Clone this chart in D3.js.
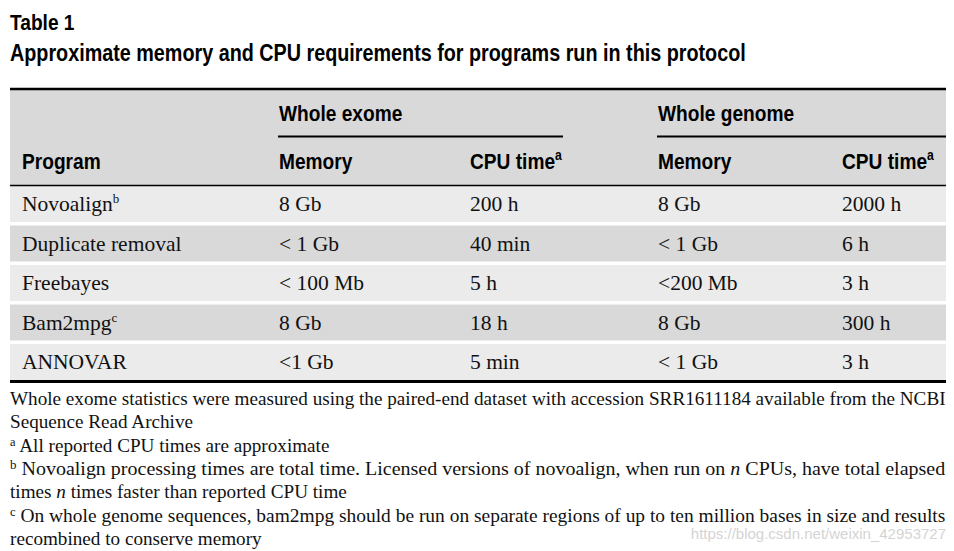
<!DOCTYPE html>
<html>
<head>
<meta charset="utf-8">
<script src="https://cdn.jsdelivr.net/npm/d3@7"></script>
<style>
  body { margin: 0; background: #fff; }
  svg { display: block; }
  .hd { font-family: "Liberation Sans Narrow", "Arial Narrow", "Liberation Sans", Arial, sans-serif; font-weight: bold; fill: #000; }
  .bd { font-family: "Liberation Serif", "Times New Roman", serif; fill: #111; }
</style>
</head>
<body>
<svg id="chart"></svg>
<script>
// table content
var programs = ["Novoalign", "Duplicate removal", "Freebayes", "Bam2mpg", "ANNOVAR"];
var programNotes = ["b", "", "", "c", ""];
var exomeMemory = ["8 Gb", "< 1 Gb", "< 100 Mb", "8 Gb", "<1 Gb"];
var exomeCpu = ["200 h", "40 min", "5 h", "18 h", "5 min"];
var genomeMemory = ["8 Gb", "< 1 Gb", "<200 Mb", "8 Gb", "< 1 Gb"];
var genomeCpu = ["2000 h", "6 h", "3 h", "300 h", "3 h"];

var groupLabels = ["Whole exome", "Whole genome"];
var colLabels = ["Program", "Memory", "CPU time", "Memory", "CPU time"];
var colNotes = ["", "", "a", "", "a"];

var footLines = [
    [{t: "Whole exome statistics were measured using the paired-end dataset with accession SRR1611184 available from the NCBI"}],
    [{t: "Sequence Read Archive"}],
    [{t: "a", sup: true}, {t: " All reported CPU times are approximate"}],
    [{t: "b", sup: true}, {t: " Novoalign processing times are total time. Licensed versions of novoalign, when run on "}, {t: "n", it: true}, {t: " CPUs, have total elapsed"}],
    [{t: "times "}, {t: "n", it: true}, {t: " times faster than reported CPU time"}],
    [{t: "c", sup: true}, {t: " On whole genome sequences, bam2mpg should be run on separate regions of up to ten million bases in size and results"}],
    [{t: "recombined to conserve memory"}]
];
var footJustify = [true, false, false, true, false, true, false];

var width = 954, height = 551;
var left = 10, right = 946;
var squeeze = 0.87; // condensed look for the bold sans headings

var svg = d3.select("#chart")
    .attr("width", width)
    .attr("height", height);

function headText(sel, x, y, size, label, note) {
    var t = sel.append("text").attr("class", "hd")
        .attr("transform", "translate(" + x + "," + y + ") scale(" + squeeze + ",1)")
        .style("font-size", size + "px")
        .text(label);
    if (note) {
        t.append("tspan")
            .attr("dy", -9)
            .style("font-size", "14px")
            .text(note);
    }
    return t;
}

// title
headText(svg, left, 30, 22, "Table 1");

var title = svg.append("text").attr("class", "hd")
    .style("font-size", "23px")
    .text("Approximate memory and CPU requirements for programs run in this protocol");
var tw = title.node().getComputedTextLength();
title.attr("transform", "translate(" + left + ",61) scale(" + (736 / tw) + ",1)");

// columns
var colX = d3.scaleOrdinal()
    .domain(d3.range(5))
    .range([22, 279, 470, 658, 842]);

// header block
svg.append("rect")
    .attr("x", left).attr("y", 89)
    .attr("width", right - left).attr("height", 97)
    .attr("fill", "#d9d9d9");

// rows
var y = d3.scaleBand()
    .domain(programs)
    .range([186, 380])
    .paddingInner(0.09)
    .paddingOuter(0);

var rows = programs.map(function(p, i) {
    return [p, exomeMemory[i], exomeCpu[i], genomeMemory[i], genomeCpu[i]];
});

var rowG = svg.selectAll(".row")
    .data(rows)
    .join("g")
    .attr("class", "row")
    .attr("transform", function(d) { return "translate(0," + y(d[0]) + ")"; });

rowG.append("rect")
    .attr("x", left)
    .attr("width", right - left)
    .attr("height", y.bandwidth())
    .attr("fill", function(d, i) { return i % 2 === 0 ? "#ebebeb" : "#d9d9d9"; });

rowG.each(function(d, i) {
    var g = d3.select(this);
    d.forEach(function(v, c) {
        var t = g.append("text").attr("class", "bd")
            .attr("x", colX(c))
            .attr("y", 25)
            .style("font-size", "21.5px")
            .text(v);
        if (c === 0 && programNotes[i]) {
            t.append("tspan")
                .attr("dy", -8)
                .style("font-size", "13px")
                .text(programNotes[i]);
        }
    });
});

// header text
var groupX = [[278, 563], [657, 946]];
groupLabels.forEach(function(g, i) {
    headText(svg, groupX[i][0] + 1, 121, 22, g);
    svg.append("line")
        .attr("x1", groupX[i][0]).attr("x2", groupX[i][1])
        .attr("y1", 136.5).attr("y2", 136.5)
        .attr("stroke", "#000").attr("stroke-width", 2);
});

colLabels.forEach(function(c, i) {
    headText(svg, colX(i), 169, 22, c, colNotes[i]);
});

// rules
svg.append("line")
    .attr("x1", left).attr("x2", right)
    .attr("y1", 89).attr("y2", 89)
    .attr("stroke", "#000").attr("stroke-width", 2.5);
svg.append("line")
    .attr("x1", left).attr("x2", right)
    .attr("y1", 185.5).attr("y2", 185.5)
    .attr("stroke", "#000").attr("stroke-width", 1.5);
svg.append("line")
    .attr("x1", left).attr("x2", right)
    .attr("y1", 381.5).attr("y2", 381.5)
    .attr("stroke", "#000").attr("stroke-width", 3);

// footnotes
var footY = d3.scaleLinear().domain([0, 6]).range([405, 545]);
var baseScale = null;
footLines.forEach(function(line, i) {
    var t = svg.append("text").attr("class", "bd")
        .style("font-size", "18.5px");
    line.forEach(function(seg, k) {
        var s = t.append("tspan").text(seg.t);
        if (seg.sup) s.attr("dy", -6).style("font-size", "12px");
        else if (k > 0 && line[k - 1].sup) s.attr("dy", 6);
        if (seg.it) s.style("font-style", "italic");
    });
    var w = t.node().getComputedTextLength();
    if (baseScale === null) baseScale = (right - left) / w;
    var sx = footJustify[i] ? (right - left) / w : baseScale;
    t.attr("transform", "translate(" + left + "," + footY(i) + ") scale(" + sx + ",1)");
});

// watermark
svg.append("text")
    .attr("x", right).attr("y", 539)
    .attr("text-anchor", "end")
    .style("font-family", "Liberation Sans, Arial, sans-serif")
    .style("font-size", "15px")
    .attr("fill", "#d4d4d4")
    .text("https://blog.csdn.net/weixin_42953727");
</script>
</body>
</html>
